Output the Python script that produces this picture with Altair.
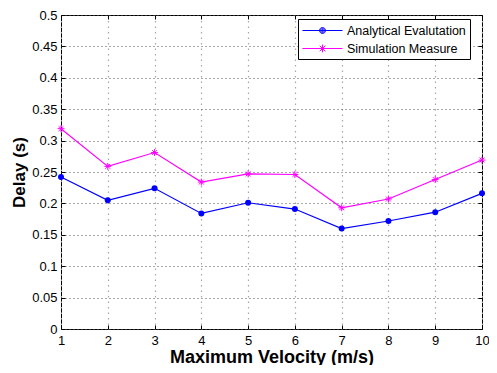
import altair as alt
import pandas as pd

# ---- data ----
velocity = [1, 2, 3, 4, 5, 6, 7, 8, 9, 10]
analytical = [0.242, 0.205, 0.224, 0.184, 0.201, 0.191, 0.160, 0.172, 0.186, 0.216]
simulation = [0.319, 0.259, 0.281, 0.234, 0.247, 0.246, 0.193, 0.207, 0.238, 0.269]
series_names = ["Analytical Evalutation", "Simulation Measure"]
series_colors = ["#0000ff", "#ff00ff"]
x_ticks = [1, 2, 3, 4, 5, 6, 7, 8, 9, 10]
y_ticks = [0, 0.05, 0.1, 0.15, 0.2, 0.25, 0.3, 0.35, 0.4, 0.45, 0.5]

df = pd.DataFrame({"v": velocity, "a": analytical, "s": simulation})
legend_df = pd.DataFrame({"series": series_names})

FONT = "Liberation Sans"
W, H = 421, 314
ASTERISK = "M-1,0L1,0M0,-1L0,1M-0.7,-0.7L0.7,0.7M-0.7,0.7L0.7,-0.7"
# legend symbols (diameter 14 px -> 1 unit = 7 px): a 40 px line with the marker on it
LEG_CIRCLE = ("M-2.86,0L2.86,0"
              "M0.43,0A0.43,0.43 0 1,1 -0.43,0A0.43,0.43 0 1,1 0.43,0"
              "M0.29,0A0.29,0.29 0 1,1 -0.29,0A0.29,0.29 0 1,1 0.29,0"
              "M0.15,0A0.15,0.15 0 1,1 -0.15,0A0.15,0.15 0 1,1 0.15,0")
LEG_ASTER = ("M-2.86,0L2.86,0M0,-0.55L0,0.55"
             "M-0.4,-0.4L0.4,0.4M-0.4,0.4L0.4,-0.4")

xscale = alt.Scale(domain=[1, 10], nice=False, zero=False)
yscale = alt.Scale(domain=[0, 0.5], nice=False, zero=False)

x_main = alt.Axis(values=x_ticks, format="d", title="Maximum Velocity (m/s)", orient="bottom",
                  grid=True, gridDash=[1.5, 4], gridColor="#a8a8a8", gridWidth=1.2,
                  ticks=False, domain=False, labelPadding=5, labelFontSize=13,
                  labelColor="black", labelFlush=False, labelOverlap=False,
                  titleFontSize=18, titleFontWeight="bold", titleColor="black", titlePadding=1)
y_main = alt.Axis(values=y_ticks, format="~g", title="Delay (s)", orient="left",
                  grid=True, gridDash=[1, 3], gridColor="#555555", gridWidth=1,
                  ticks=False, domain=False, labelPadding=4, labelFontSize=13,
                  labelColor="black", labelFlush=False, labelOverlap=False,
                  titleFontSize=17, titleFontWeight="bold", titleColor="black", titlePadding=3)


def tick_axis(vals, orient):
    return alt.Axis(values=vals, orient=orient, offset=-4, labels=False, domain=False,
                    grid=False, ticks=True, tickSize=4, tickColor="black", tickWidth=1,
                    title=None)


line_a = alt.Chart(df).mark_line(color=series_colors[0], strokeWidth=1.2).encode(
    x=alt.X("v:Q", scale=xscale, axis=x_main),
    y=alt.Y("a:Q", scale=yscale, axis=y_main),
)
pts_a = alt.Chart(df).mark_point(shape="circle", filled=True, size=36, opacity=1,
                                 color=series_colors[0]).encode(
    x=alt.X("v:Q", scale=xscale, axis=tick_axis(x_ticks, "bottom")),
    y=alt.Y("a:Q", scale=yscale, axis=tick_axis(y_ticks, "left")),
)
line_s = alt.Chart(df).mark_line(color=series_colors[1], strokeWidth=1.2).encode(
    x=alt.X("v:Q", scale=xscale, axis=tick_axis(x_ticks, "top")),
    y=alt.Y("s:Q", scale=yscale, axis=tick_axis(y_ticks, "right")),
)
pts_s = alt.Chart(df).mark_point(shape=ASTERISK, filled=False, size=48, opacity=1,
                                 strokeWidth=1, color=series_colors[1]).encode(
    x=alt.X("v:Q", scale=xscale, axis=None),
    y=alt.Y("s:Q", scale=yscale, axis=None),
)

leg = alt.Legend(title=None, orient="none", legendX=237, legendY=4,
                 direction="vertical", strokeColor="black", fillColor="white",
                 padding=4, cornerRadius=0, labelFont=FONT, labelFontSize=12.5,
                 labelColor="black", symbolSize=196, symbolStrokeWidth=1,
                 symbolFillColor="transparent", symbolOffset=13, labelOffset=17,
                 rowPadding=4)

legend_layer = alt.Chart(legend_df).transform_filter("false").mark_point(
    filled=False, opacity=1, strokeWidth=1).encode(
    color=alt.Color("series:N",
                    scale=alt.Scale(domain=series_names, range=series_colors),
                    legend=leg),
    shape=alt.Shape("series:N",
                    scale=alt.Scale(domain=series_names, range=[LEG_CIRCLE, LEG_ASTER]),
                    legend=leg),
)

chart = alt.layer(line_a, pts_a, line_s, pts_s, legend_layer).resolve_axis(
    x="independent", y="independent"
).properties(
    width=W, height=H, background="white",
    autosize=alt.AutoSizeParams(type="none"),
    padding={"left": 53, "top": 7, "right": 7, "bottom": 36},
).configure_view(
    stroke="black", strokeWidth=1
).configure_axis(labelFont=FONT, titleFont=FONT)

chart.save("out.html", embed_options={"renderer": "svg", "actions": False})
